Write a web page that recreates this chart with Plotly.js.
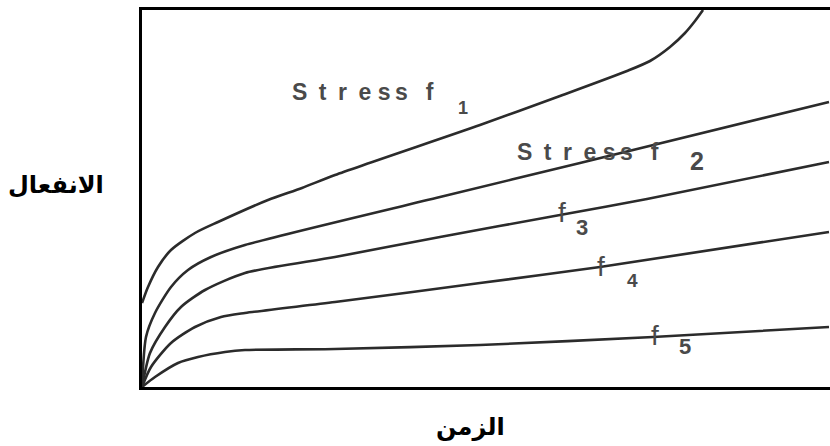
<!DOCTYPE html>
<html>
<head>
<meta charset="utf-8">
<script src="https://cdn.plot.ly/plotly-3.0.1.min.js"></script>
<style>html,body{margin:0;padding:0;background:#fff;}#chart{width:830px;height:446px;}</style>
</head>
<body>
<div id="chart"></div>
<script>
// time (x) and strain (y) values, arbitrary units
const t1 = [0, 6, 16, 29, 53, 76, 126, 160, 193, 338, 418, 485, 508, 528, 543, 553, 561];
const e1 = [84, 100, 120, 137, 154, 165, 187, 199, 212, 262, 291, 316, 326, 340, 354, 366, 377];
const t2 = [0, 4, 13, 29, 46, 69, 103, 298, 438, 687];
const e2 = [0, 50, 74, 100, 117, 130, 142, 190, 224, 285];
const t3 = [0, 8, 23, 39, 63, 103, 193, 298, 418, 505, 687];
const e3 = [0, 34, 60, 80, 97, 114, 130, 150, 172, 188, 225];
const t4 = [0, 9, 29, 53, 79, 103, 193, 338, 458, 687];
const e4 = [0, 20, 44, 60, 70, 74, 85, 104, 120, 155];
const t5 = [0, 13, 36, 56, 83, 103, 193, 338, 511, 687];
const e5 = [0, 10, 24, 30, 35, 37, 38, 42, 50, 60];

const seriesT = [t1, t2, t3, t4, t5];
const seriesE = [e1, e2, e3, e4, e5];

const stressWord = "S\u2002t\u2002r\u2002e s\u2009s\u2002 f";
const yLabel = "الانفعال";
const xLabel = "الزمن";

const traces = seriesT.map((t, i) => ({
  x: t, y: seriesE[i], type: 'scatter', mode: 'lines',
  line: {color: '#2b2b2b', width: 2.6, shape: 'spline', smoothing: 0.7},
  hoverinfo: 'skip', showlegend: false
}));

const gray = '#4a4a4a';
const fam = 'Liberation Sans, Arial, sans-serif';
function ann(text, x, y, size, weight, opts) {
  return Object.assign({
    text: text, x: x, y: y, xref: 'x', yref: 'y', showarrow: false,
    font: {family: fam, size: size, color: gray, weight: weight},
    xanchor: 'center', yanchor: 'middle'
  }, opts || {});
}

const annotations = [
  ann(stressWord, 148, 295, 23, 700, {xanchor: 'left'}),
  ann('1', 321, 279, 18, 700),
  ann(stressWord, 373, 235, 23, 700, {xanchor: 'left'}),
  ann('2', 555, 226, 25, 700),
  ann('f', 420, 175, 28, 400),
  ann('3', 440, 160, 22, 700),
  ann('f', 459, 121, 28, 400),
  ann('4', 490, 107, 19, 700),
  ann('f', 513, 52, 28, 400),
  ann('5', 543, 41, 22, 700),
  {text: yLabel, xref: 'paper', yref: 'paper', x: -0.125, y: 0.536, xanchor: 'center', yanchor: 'middle',
   showarrow: false, font: {family: 'DejaVu Sans, sans-serif', size: 24, color: '#000', weight: 700}},
  {text: xLabel, xref: 'paper', yref: 'paper', x: 0.477, y: -0.105, xanchor: 'center', yanchor: 'middle',
   showarrow: false, font: {family: 'DejaVu Sans, sans-serif', size: 24, color: '#000', weight: 700}}
];

const layout = {
  width: 830, height: 446,
  margin: {l: 142, r: 0, t: 10, b: 59},
  paper_bgcolor: '#fff', plot_bgcolor: '#fff',
  xaxis: {range: [0, 688], showline: true, mirror: true, linecolor: '#000', linewidth: 3,
          showgrid: false, zeroline: false, showticklabels: false, ticks: ''},
  yaxis: {range: [0, 377], showline: true, mirror: false, linecolor: '#000', linewidth: 3,
          showgrid: false, zeroline: false, showticklabels: false, ticks: ''},
  annotations: annotations,
  showlegend: false
};

Plotly.newPlot('chart', traces, layout, {staticPlot: true, displayModeBar: false});
</script>
</body>
</html>
